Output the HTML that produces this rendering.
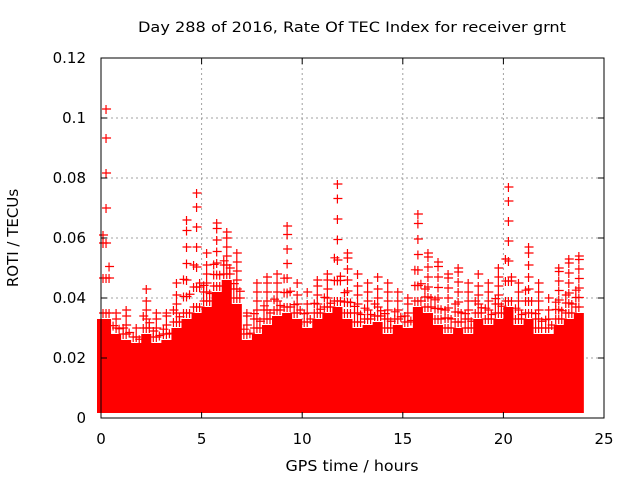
<!DOCTYPE html>
<html><head><meta charset="utf-8"><style>
body{margin:0;background:#fff;}
svg{display:block;font-family:"DejaVu Sans","Liberation Sans",sans-serif;}
</style></head><body>
<svg id="chart" width="640" height="480">
<text x="352" y="32" text-anchor="middle" font-size="14" textLength="428" lengthAdjust="spacingAndGlyphs">Day 288 of 2016, Rate Of TEC Index for receiver grnt</text>
<text x="352" y="471" text-anchor="middle" font-size="15" textLength="133" lengthAdjust="spacingAndGlyphs">GPS time / hours</text>
<text x="18" y="238" text-anchor="middle" font-size="15" transform="rotate(-90 18 238)">ROTI / TECUs</text>
<g id="grid"></g><g id="marks"></g><g id="axes"></g>
</svg>
<script>
const xTicks=[0,5,10,15,20,25];
const yTicks=[0,0.02,0.04,0.06,0.08,0.1,0.12];
const yTickLabels=["0","0.02","0.04","0.06","0.08","0.1","0.12"];
const binStart=[0,0.5,1,1.5,2,2.5,3,3.5,4,4.5,5,5.5,6,6.5,7,7.5,8,8.5,9,9.5,10,10.5,11,11.5,12,12.5,13,13.5,14,14.5,15,15.5,16,16.5,17,17.5,18,18.5,19,19.5,20,20.5,21,21.5,22,22.5,23,23.5];
const denseTop=[0.033,0.028,0.026,0.025,0.028,0.025,0.026,0.03,0.033,0.035,0.037,0.042,0.046,0.038,0.026,0.028,0.031,0.034,0.035,0.033,0.03,0.033,0.035,0.037,0.033,0.03,0.031,0.032,0.028,0.031,0.03,0.037,0.035,0.031,0.028,0.03,0.028,0.033,0.031,0.033,0.037,0.031,0.033,0.028,0.028,0.031,0.033,0.035];
const peak=[0.103,0.035,0.036,0.03,0.043,0.035,0.035,0.045,0.066,0.075,0.055,0.065,0.062,0.055,0.035,0.045,0.047,0.048,0.064,0.045,0.042,0.046,0.048,0.078,0.055,0.048,0.045,0.047,0.045,0.042,0.04,0.068,0.055,0.052,0.048,0.05,0.045,0.048,0.045,0.05,0.077,0.045,0.057,0.045,0.04,0.05,0.053,0.054];
const floorVal=0.003, binW=0.5, tEnd=23.8;
const X0=101,X1=604,Y0=418,Y1=58;
const xs=t=>X0+(t-0)/(25-0)*(X1-X0);
const ys=v=>Y0-(v-0)/(0.12-0)*(Y0-Y1);
const NS="http://www.w3.org/2000/svg";
function mk(tag,attrs,parent){const e=document.createElementNS(NS,tag);for(const k in attrs)e.setAttribute(k,attrs[k]);parent.appendChild(e);return e;}
const grid=document.getElementById('grid'),marks=document.getElementById('marks'),axes=document.getElementById('axes');
xTicks.forEach((t,i)=>{
  if(i>0&&i<xTicks.length-1){const g=mk('line',{x1:xs(t),x2:xs(t),y1:Y1,y2:Y0,stroke:'#a0a0a0','stroke-dasharray':'2,3'},grid);
  
  }
  const l=mk('text',{x:xs(t),y:444,'text-anchor':'middle','font-size':15},axes);l.textContent=t;
  
  
  mk('line',{x1:xs(t),x2:xs(t),y1:Y0,y2:Y0-6,stroke:'#000'},axes);
  mk('line',{x1:xs(t),x2:xs(t),y1:Y1,y2:Y1+6,stroke:'#000'},axes);
});
yTicks.forEach((v,i)=>{
  if(i>0&&i<yTicks.length-1){const g=mk('line',{x1:X0,x2:X1,y1:ys(v),y2:ys(v),stroke:'#a0a0a0','stroke-dasharray':'2,3'},grid);
  
  }
  const l=mk('text',{x:86,y:ys(v)+5,'text-anchor':'end','font-size':15},axes);l.textContent=yTickLabels[i];
  
  
  mk('line',{x1:X0,x2:X0+6,y1:ys(v),y2:ys(v),stroke:'#000'},axes);
  mk('line',{x1:X1,x2:X1-6,y1:ys(v),y2:ys(v),stroke:'#000'},axes);
});
const frame=mk('rect',{x:X0,y:Y1,width:X1-X0,height:Y0-Y1,fill:'none',stroke:'#000'},axes);


let d='M'+(xs(0)-4)+','+(ys(floorVal)+4);
binStart.forEach((t,i)=>{
  const e=Math.min(t+binW,tEnd);
  const x0=i===0?xs(t)-4:xs(t), x1=i===binStart.length-1?xs(e)+4:xs(e);
  d+=' L'+x0+','+ys(denseTop[i])+' L'+x1+','+ys(denseTop[i]);
});
d+=' L'+(xs(tEnd)+4)+','+(ys(floorVal)+4)+' Z';
const area=mk('path',{d:d,fill:'#ff0000'},marks);


function cross(x,y,name){
  const p=mk('path',{d:`M${x-4},${y}h9M${x},${y-4}v9`,stroke:'#ff0000','stroke-width':1.2},marks);
  
  
}
binStart.forEach((t,i)=>{
  const e=Math.min(t+binW,tEnd);
  const cols=[t+0.1,t+0.25,t+0.4].filter(c=>c<e);
  cols.forEach((c,j)=>{
    const gap=peak[i]-denseTop[i];
    const top=j===1?peak[i]:denseTop[i]+gap*(j===0?0.4:0.25);
    const step=Math.max(0.003,gap/6);
    for(let v=denseTop[i]+0.002;v<top-0.001;v+=step){cross(xs(c),ys(v),'roti-point');}
    cross(xs(c),ys(top),'roti-peak-point');
  });
});
</script>
</body></html>
